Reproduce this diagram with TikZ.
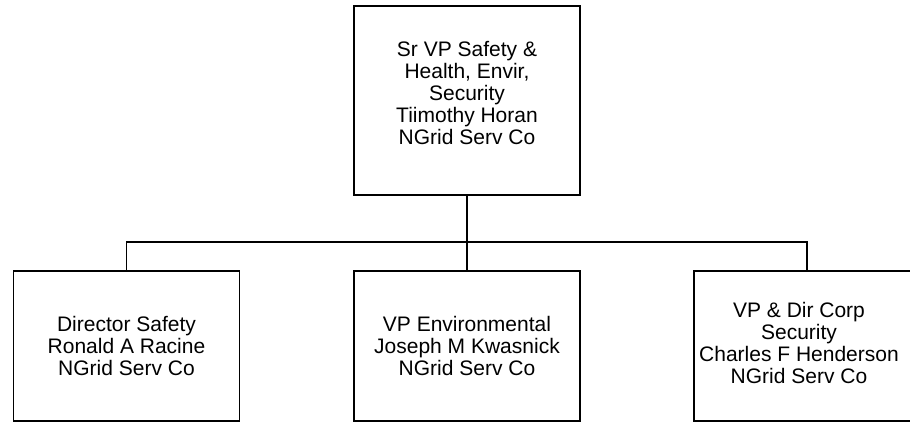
\documentclass[tikz,border=0pt]{standalone}
\usepackage{fontspec}
\setmainfont{Liberation Sans}
\tikzset{
  orgbox/.style={draw=black, line width=1.5pt, fill=white, rectangle, align=center,
    minimum width=226pt, minimum height=150pt, inner sep=0pt,
    font=\fontsize{21}{22}\selectfont},
  conn/.style={draw=black, line width=1.5pt}
}
\begin{document}
\begin{tikzpicture}[x=1pt, y=-1pt]
  \useasboundingbox (0,0) rectangle (910,422);
  \clip (0,0) rectangle (910,422);
  \fill[white] (0,0) rectangle (910,422);
  \coordinate (bus) at (467,242);
  \node[orgbox, minimum height=189pt, text depth=15pt] (top) at (467,100.5)
    {Sr VP Safety \&\\Health, Envir,\\Security\\Tiimothy Horan\\NGrid Serv Co};
  \node[orgbox] (left) at (126.5,346)
    {Director Safety\\Ronald A Racine\\NGrid Serv Co};
  \node[orgbox] (mid) at (467,346)
    {VP Environmental\\Joseph M Kwasnick\\NGrid Serv Co};
  \node[orgbox] (right) at (807,346)
    {\begin{tabular}{@{}c@{}}VP \& Dir Corp\\Security\\Charles F Henderson\\NGrid Serv Co\end{tabular}\hspace*{16pt}};
  \draw[conn] (top.south) -- (bus);
  \draw[conn] (left.north) |- (bus) -| (right.north);
  \draw[conn] (bus) -- (mid.north);
\end{tikzpicture}
\end{document}
